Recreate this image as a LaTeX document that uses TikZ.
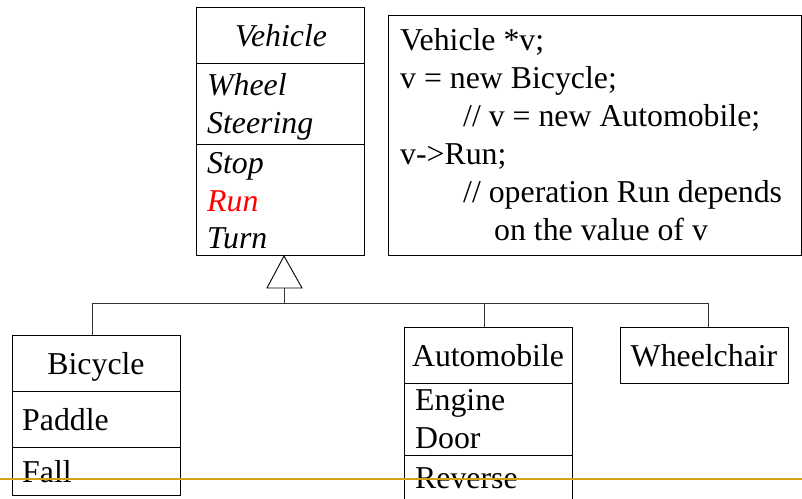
\documentclass[tikz,border=0pt]{standalone}
\usepackage{fontspec}
\setmainfont{Liberation Serif}[ItalicFont={Liberation Serif Italic}]
\begin{document}
\begin{tikzpicture}[x=1pt,y=-1pt,
  box/.style={draw=black,line width=1pt,inner sep=0pt,anchor=north west},
  sep/.style={draw=black,line width=1pt},
  lnk/.style={draw=black!80,line width=0.9pt},
  txt/.style={inner sep=0pt,anchor=base west,font=\fontsize{31.8}{38}\selectfont},
  ctxt/.style={inner sep=0pt,anchor=base,font=\fontsize{31.8}{38}\selectfont},
  itxt/.style={txt,font=\fontsize{31.8}{38}\selectfont\itshape}]
\useasboundingbox (0,0) rectangle (802,498);
% Vehicle class
\node[box,minimum width=168pt,minimum height=248pt] (veh) at (196,7) {};
\draw[sep] (196,63) -- (364,63);
\draw[sep] (196,144) -- (364,144);
\node[ctxt,font=\fontsize{31.8}{38}\selectfont\itshape] (vehn) at (281,46) {Vehicle};
\node[itxt] (vw) at (207,95) {Wheel};
\node[itxt] (vs) at (207,133) {Steering};
\node[itxt] (vst) at (207,173) {Stop};
\node[itxt,text=red] (vr) at (207,211) {Run};
\node[itxt] (vt) at (207,248) {Turn};
% code box
\node[box,minimum width=413pt,minimum height=240pt] (code) at (388,15) {};
\node[txt] (c1) at (400,50) {Vehicle *v;};
\node[txt] (c2) at (400,88) {v = new Bicycle;};
\node[txt] (c3) at (463,126) {// v = new Automobile;};
\node[txt] (c4) at (400,164) {v->Run;};
\node[txt] (c5) at (463,202) {// operation Run depends};
\node[txt] (c6) at (494,240) {on the value of v};
% inheritance triangle
\coordinate (apex) at (284,256);
\coordinate (tribase) at (284,288);
\draw[line width=0.9pt,fill=white] (apex) -- (302,288) -- (267,288) -- cycle;
\coordinate (hub) at (284,303);
\coordinate (hl) at (92,303);
\coordinate (ha) at (484,303);
\coordinate (hw) at (708,303);
% subclasses
\node[box,minimum width=168pt,minimum height=160pt] (bic) at (12,335) {};
\draw[sep] (12,391) -- (180,391);
\draw[sep] (12,447) -- (180,447);
\node[ctxt] (bicn) at (96,374) {Bicycle};
\node[txt] (bp) at (22,430) {Paddle};
\node[txt] (bf) at (22,482) {Fall};
\node[box,minimum width=168pt,minimum height=180pt] (aut) at (404,327) {};
\draw[sep] (404,383) -- (572,383);
\draw[sep] (404,455) -- (572,455);
\node[ctxt] (autn) at (488,366) {Automobile};
\node[txt] (ae) at (415,410) {Engine};
\node[txt] (ad) at (415,448) {Door};
\node[txt] (ar) at (415,488) {Reverse};
\node[box,minimum width=168pt,minimum height=56pt] (whc) at (620,327) {};
\node[ctxt] (whcn) at (704,366) {Wheelchair};
% connectors
\draw[lnk] (tribase) -- (hub);
\draw[lnk] (hl) -- (hw);
\draw[lnk] (hl) -- (bic.north -| hl);
\draw[lnk] (ha) -- (aut.north -| ha);
\draw[lnk] (hw) -- (whc.north -| hw);
% yellow rule
\draw[line width=2pt,color={rgb,255:red,214;green,160;blue,20}] (0,479) -- (802,479);
\end{tikzpicture}
\end{document}
